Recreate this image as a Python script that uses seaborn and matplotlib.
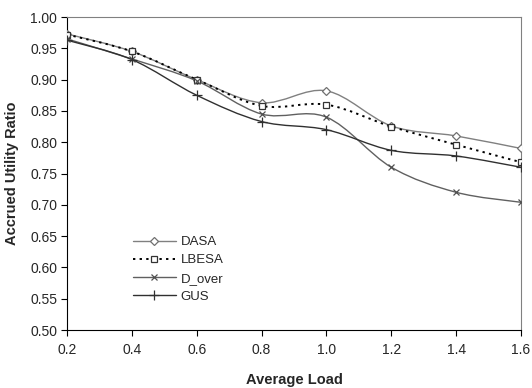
import numpy as np
import pandas as pd
import matplotlib
matplotlib.use("Agg")
import matplotlib.pyplot as plt
from matplotlib.path import Path
from matplotlib.patches import PathPatch
import seaborn as sns

load = [0.2, 0.4, 0.6, 0.8, 1.0, 1.2, 1.4, 1.6]
dasa = [0.973, 0.945, 0.900, 0.863, 0.882, 0.826, 0.810, 0.790]
lbesa = [0.972, 0.945, 0.900, 0.858, 0.860, 0.825, 0.796, 0.768]
d_over = [0.965, 0.933, 0.898, 0.845, 0.840, 0.760, 0.720, 0.704]
gus = [0.963, 0.932, 0.875, 0.833, 0.820, 0.787, 0.778, 0.760]

series = ["DASA", "LBESA", "D_over", "GUS"]
values = [dasa, lbesa, d_over, gus]

df = pd.DataFrame({
    "load": load * 4,
    "ratio": dasa + lbesa + d_over + gus,
    "series": sum([[s] * len(load) for s in series], []),
})

sns.set_style("white")
plt.rcParams["font.family"] = ["Liberation Sans", "DejaVu Sans"]

fig = plt.figure(figsize=(5.32, 3.88), dpi=100)
ax = fig.add_axes([67 / 532, 1 - 330 / 388, (521 - 67) / 532, (330 - 17) / 388])

styles = {
    "DASA": dict(color="#808080", ls="-", marker="D", ms=4.5, mfc="white", mec="#707070"),
    "LBESA": dict(color="#000000", ls=(0, (1.2, 2.2)), marker="s", ms=5, mfc="white", mec="#333333"),
    "D_over": dict(color="#606060", ls="-", marker="x", ms=5, mfc="none", mec="#505050"),
    "GUS": dict(color="#303030", ls="-", marker="+", ms=7, mfc="none", mec="#303030"),
}


def smooth_path(x, y, t=1 / 6):
    x = np.asarray(x, float)
    y = np.asarray(y, float)
    n = len(x)
    verts = [(x[0], y[0])]
    codes = [Path.MOVETO]
    for i in range(n - 1):
        p0 = np.array([x[max(i - 1, 0)], y[max(i - 1, 0)]])
        p1 = np.array([x[i], y[i]])
        p2 = np.array([x[i + 1], y[i + 1]])
        p3 = np.array([x[min(i + 2, n - 1)], y[min(i + 2, n - 1)]])
        c1 = p1 + (p2 - p0) * t
        c2 = p2 - (p3 - p1) * t
        verts += [tuple(c1), tuple(c2), tuple(p2)]
        codes += [Path.CURVE4] * 3
    return Path(verts, codes)


for s, v in zip(series, values):
    st = styles[s]
    sub = df[df["series"] == s]
    sns.lineplot(data=sub, x="load", y="ratio", ax=ax, linestyle="none",
                 marker=st["marker"], markersize=st["ms"], markerfacecolor=st["mfc"],
                 markeredgecolor=st["mec"], markeredgewidth=0.9, color=st["color"],
                 legend=False, zorder=3)
    patch = PathPatch(smooth_path(load, v), facecolor="none", edgecolor=st["color"],
                      lw=1.0 if s != "LBESA" else 1.4, linestyle=st["ls"],
                      transform=ax.transData, zorder=2)
    ax.add_patch(patch)

handles = []
for s in series:
    st = styles[s]
    h, = ax.plot([], [], color=st["color"], ls=st["ls"], lw=1.0 if s != "LBESA" else 1.4,
                 marker=st["marker"], ms=st["ms"], mfc=st["mfc"], mec=st["mec"], mew=0.9)
    handles.append(h)
ax.legend(handles, series, loc="upper left", bbox_to_anchor=(0.12, 0.338), frameon=False,
          fontsize=9.5, handlelength=3.2, labelspacing=0.45, handletextpad=0.4)

ax.set_xlim(0.2, 1.6)
ax.set_ylim(0.5, 1.0)
ax.set_xticks(load)
ax.set_xticklabels([f"{v:.1f}" for v in load])
ax.set_yticks(np.arange(0.5, 1.0001, 0.05))
ax.set_yticklabels([f"{v:.2f}" for v in np.arange(0.5, 1.0001, 0.05)])
ax.tick_params(axis="both", which="both", direction="out", length=4, width=0.8,
               labelsize=10, color="black", pad=3, bottom=True, left=True)
ax.tick_params(axis="x", pad=5)
for side in ["left", "bottom"]:
    ax.spines[side].set_color("black")
    ax.spines[side].set_linewidth(0.8)
for side in ["top", "right"]:
    ax.spines[side].set_color("#808080")
    ax.spines[side].set_linewidth(0.8)
ax.set_xlabel("Average Load", fontsize=10.5, fontweight="bold", labelpad=12)
ax.set_ylabel("Accrued Utility Ratio", fontsize=10.5, fontweight="bold", labelpad=8)

fig.savefig("out.png", dpi=100)
